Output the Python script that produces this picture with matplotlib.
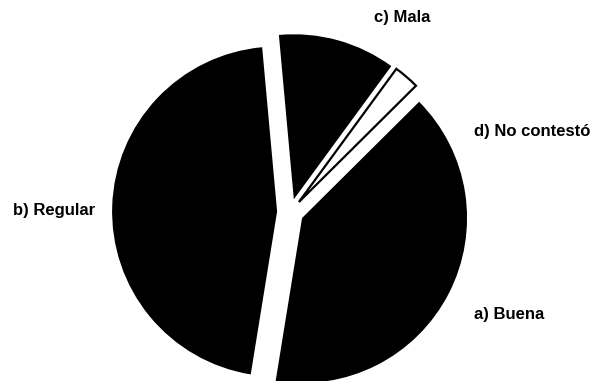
import matplotlib
matplotlib.use("Agg")
import matplotlib.pyplot as plt

# Survey answers (percent of responses)
categories = ["a) Buena", "b) Regular", "c) Mala", "d) No contestó"]
shares = [40.0, 46.0, 11.5, 2.5]

# Styling
fills = ["black", "black", "black", "white"]
explode = [0.08, 0.08, 0.08, 0.08]
label_xy = [(1.112, -0.624), (-1.184, 0.012), (0.507, 1.176), (1.112, 0.485)]
label_ha = ["left", "right", "left", "left"]

fig = plt.figure(figsize=(5.99, 3.81), dpi=100)
ax = fig.add_axes([0, 0, 1, 1])

wedges, _ = ax.pie(
    shares,
    colors=fills,
    explode=explode,
    startangle=44.8,
    counterclock=False,
    radius=1.0,
    wedgeprops=dict(linewidth=0, edgecolor="black", antialiased=True),
)
# The small white wedge carries a black outline
wedges[3].set_edgecolor("black")
wedges[3].set_linewidth(1.6)

for name, (x, y), ha in zip(categories, label_xy, label_ha):
    ax.text(x, y, name, ha=ha, va="center", fontsize=12,
            fontweight="bold", family=["Liberation Sans", "DejaVu Sans"])

ax.set_xlim(-290.3 / 165, (599 - 290.3) / 165)
ax.set_ylim(-(381 - 212) / 165, 212 / 165)
ax.set_aspect("auto")
ax.axis("off")

fig.savefig("out.png", dpi=100, facecolor="white")
